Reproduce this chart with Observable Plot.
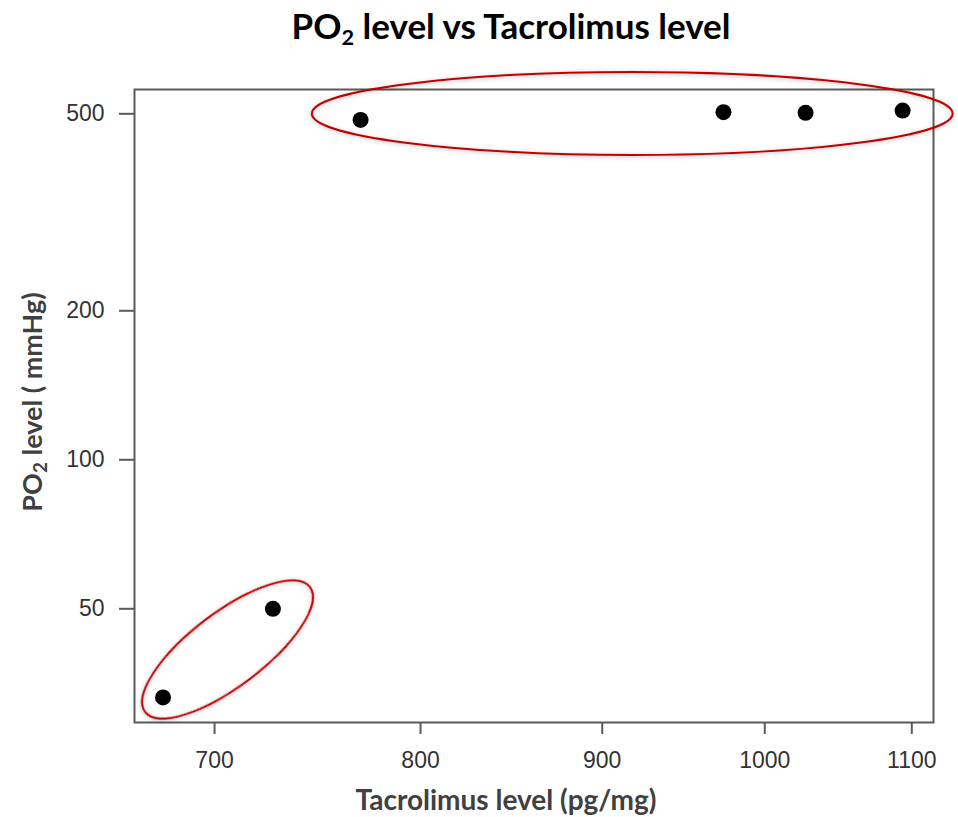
<!DOCTYPE html>
<html><head><meta charset="utf-8">
<script src="https://cdn.jsdelivr.net/npm/d3@7"></script>
<script src="https://cdn.jsdelivr.net/npm/@observablehq/plot@0.6"></script>
<style>
body{margin:0;background:#fff;}
#title{height:50px;width:958px;box-sizing:border-box;padding-left:64px;text-align:center;font:700 35px Lato, sans-serif;line-height:50px;color:#000;white-space:nowrap;}
#title sub{font-size:0.62em;vertical-align:-0.28em;line-height:0;}
</style></head><body>
<div id="title">PO<sub>2</sub> level vs Tacrolimus level</div>
<div id="chart"></div>
<script>
// Data (log x, log y)
const tacrolimus = [677, 727, 769.5, 973.6, 1026.8, 1093.5];
const po2 = [33.1, 50, 486, 503.8, 502.3, 507.7];
const xTicks = [700, 800, 900, 1000, 1100];
const yTicks = [50, 100, 200, 500];
const xLabel = "Tacrolimus level (pg/mg)";
const yLabel = "PO2 level ( mmHg)";
// Annotation ellipses in data coordinates
const groupTopX = [745.8, 1129.9];   // left / right extremes
const groupTopY = [411.9, 605.9];    // bottom / top extremes
const groupLowX = [669.4, 744.9];    // major-axis tips
const groupLowY = [30.87, 55.2];

const data = tacrolimus.map((t, i) => ({t, p: po2[i]}));

function ellipses(index, scales) {
  const {x, y} = scales;
  const g = d3.create("svg:g")
    .attr("fill", "none").attr("stroke", "#c00000").attr("stroke-width", 2)
    .style("filter", "drop-shadow(0px 1px 2px rgba(0,0,0,0.28))");
  const x1 = x(groupTopX[0]), x2 = x(groupTopX[1]);
  const y1 = y(groupTopY[1]), y2 = y(groupTopY[0]);
  g.append("ellipse").attr("cx", (x1 + x2) / 2).attr("cy", (y1 + y2) / 2)
    .attr("rx", (x2 - x1) / 2).attr("ry", (y2 - y1) / 2);
  const ax = x(groupLowX[0]), ay = y(groupLowY[0]), bx = x(groupLowX[1]), by = y(groupLowY[1]);
  const cx = (ax + bx) / 2, cy = (ay + by) / 2;
  const a = Math.hypot(bx - ax, by - ay) / 2;
  const ang = Math.atan2(by - ay, bx - ax) * 180 / Math.PI;
  g.append("ellipse").attr("transform", `translate(${cx},${cy}) rotate(${ang})`)
    .attr("rx", a).attr("ry", 37);
  return g.node();
}

const plot = Plot.plot({
  width: 958, height: 767,
  marginTop: 39, marginBottom: 95, marginLeft: 134, marginRight: 25,
  x: {type: "log", domain: [664.6, 1115.6]},
  y: {type: "log", domain: [29.46, 559.9]},
  style: {fontFamily: "'Liberation Sans', Arial, sans-serif", background: "white", overflow: "visible"},
  marks: [
    Plot.frame({stroke: "#5a5a5a", strokeWidth: 2}),
    Plot.axisX(xTicks, {tickSize: 12, tickPadding: 17, fontSize: 23, fontFamily: "'Liberation Sans', Arial, sans-serif", stroke: "#5a5a5a", strokeWidth: 2, fill: "#333", label: null, tickFormat: d => String(d)}),
    Plot.axisY(yTicks, {tickSize: 15, tickPadding: 15, fontSize: 23, fontFamily: "'Liberation Sans', Arial, sans-serif", stroke: "#5a5a5a", strokeWidth: 2, fill: "#333", label: null, tickFormat: d => String(d)}),
    Plot.dot(data, {x: "t", y: "p", r: 8, fill: "black", stroke: "none"}),
    ellipses,
    Plot.text([xLabel], {text: d => d, frameAnchor: "bottom", lineAnchor: "top", textAnchor: "middle", dy: 68, dx: -28, fontSize: 28, fontWeight: "bold", fill: "#404040", fontFamily: "Lato, sans-serif"}),
    Plot.text([yLabel], {text: d => d, frameAnchor: "left", textAnchor: "middle", rotate: -90, dx: -101, dy: -4, fontSize: 27, fontWeight: "bold", fill: "#404040", fontFamily: "Lato, sans-serif"})
  ]
});
document.getElementById("chart").appendChild(plot);

// subscript the "2" in PO2 of the y label
d3.select(plot).selectAll("text").filter(function() { return this.textContent === yLabel; })
  .each(function() {
    const t = d3.select(this);
    t.text(null);
    t.append("tspan").text("PO");
    t.append("tspan").attr("baseline-shift", "-25%").attr("font-size", "70%").text("2");
    t.append("tspan").text(" level ( mmHg)");
  });
</script>
</body></html>
